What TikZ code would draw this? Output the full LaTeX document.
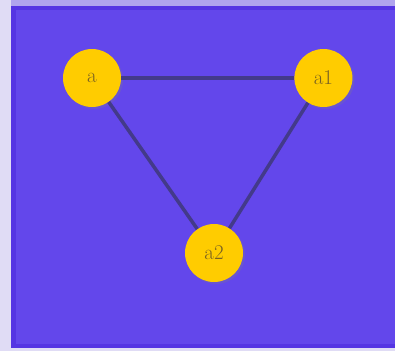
\documentclass[tikz,border=0pt]{standalone}
\usepackage{tikz}
\usetikzlibrary{positioning,shadows}

\definecolor{panelbg}{HTML}{6347EB}
\definecolor{panelrim}{HTML}{5535E3}
\definecolor{leftstrip}{HTML}{E0DCF5}
\definecolor{topstrip}{HTML}{B0A4EE}
\definecolor{nodefill}{HTML}{FFCC00}
\definecolor{nodetext}{HTML}{7A6222}
\definecolor{edgecol}{HTML}{433A8A}

\tikzset{
  vertex/.style={circle, fill=nodefill, minimum size=58pt, inner sep=0pt,
    text=nodetext, font=\fontsize{21}{23}\selectfont,
    drop shadow={shadow xshift=2pt, shadow yshift=-2pt, opacity=0.25}},
  link/.style={draw=edgecol, line width=3.5pt}
}

\begin{document}
\begin{tikzpicture}[x=1pt, y=1pt]
  % frame
  \useasboundingbox (0,0) rectangle (395,-351);
  \fill[leftstrip] (0,0) rectangle (395,-351);
  \fill[topstrip] (11,0) rectangle (395,-6);
  \fill[panelrim] (11,-6) rectangle (395,-348);
  \fill[panelbg] (16,-10) rectangle (396,-344);

  \node[vertex] (a) at (92,-78) {a};
  \node[vertex, right=173pt of a] (a1) {a1};
  \node[vertex] (a2) at (214,-253) {a2};

  \draw[link] (a) -- (a1);
  \draw[link] (a) -- (a2);
  \draw[link] (a1) -- (a2);
\end{tikzpicture}
\end{document}
